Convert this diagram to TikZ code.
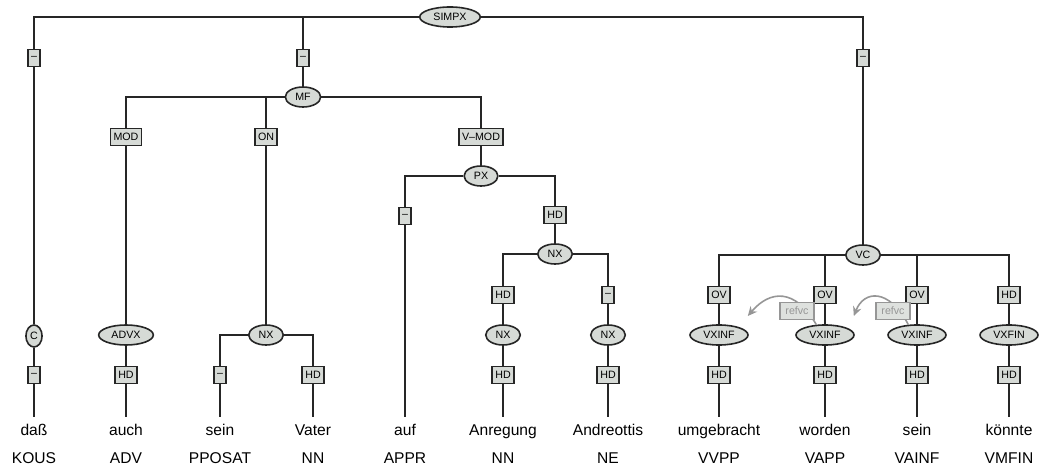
\documentclass[tikz,border=0pt]{standalone}
\usepackage{fontspec}
\setmainfont{Liberation Sans}
\usetikzlibrary{shapes.geometric,arrows.meta,calc}
\definecolor{boxgray}{RGB}{214,218,214}
\definecolor{refgray}{RGB}{150,150,150}

\begin{document}
\begin{tikzpicture}[
        x=0.75pt,
        y=-0.75pt,
        tree edge/.style={line width=1.2pt,draw=black!85},
        cat node/.style={
            ellipse,draw=black!85,line width=1.2pt,fill=boxgray,
            font=\fontsize{8}{9}\selectfont,
            inner xsep=3.6pt,inner ysep=1pt,minimum height=15pt
        },
        func box/.style={
            rectangle,draw=black!85,line width=1.2pt,fill=boxgray,
            font=\fontsize{8}{9}\selectfont,
            inner xsep=2.4pt,inner ysep=0pt,minimum height=12.5pt
        },
        word/.style={
            anchor=base,font=\fontsize{11.7}{14}\selectfont,
            text height=8.5pt,text depth=2.5pt,inner xsep=0pt,inner ysep=4.5pt
        },
        pos tag/.style={anchor=base,font=\fontsize{11.7}{14}\selectfont},
        ref box/.style={
            rectangle,draw=refgray,line width=1pt,fill=boxgray!80,text=refgray,
            font=\fontsize{8}{9}\selectfont,
            inner xsep=4pt,inner ysep=0pt,minimum height=12.5pt
        },
        ref edge/.style={
            line width=1.2pt,draw=refgray,
            -{Stealth[length=7pt,width=6.5pt]}
        }
    ]
        \useasboundingbox (0,0) rectangle (1039,470);

        % Root and its three daughters.
        \node[cat node] (simpx) at (450,17) {SIMPX};
        \node[func box] (fA) at (34,58) {--};
        \node[func box] (fB) at (303,58) {--};
        \node[func box] (fC) at (863,58) {--};
        \node[cat node,inner xsep=1.4pt,minimum height=16.5pt] (c) at (34,336) {C};
        \node[cat node] (mf) at (303,97) {MF};
        \node[cat node] (vc) at (863,255) {VC};

        % Middle field.
        \node[func box] (mod) at (126,137) {MOD};
        \node[func box] (on) at (266,137) {ON};
        \node[func box] (vmod) at (481,137) {V--MOD};
        \node[cat node] (advx) at (126,335) {ADVX};
        \node[cat node] (nxA) at (266,335) {NX};
        \node[cat node] (px) at (481,176) {PX};
        \node[func box] (fD) at (405,216) {--};
        \node[func box] (hdA) at (555,215) {HD};
        \node[cat node] (nxB) at (555,254) {NX};
        \node[func box] (hdB) at (503,295) {HD};
        \node[func box] (fE) at (608,295) {--};
        \node[cat node] (nxC) at (503,335) {NX};
        \node[cat node] (nxD) at (608,335) {NX};

        % Verb complex.
        \node[func box] (ovA) at (719,295) {OV};
        \node[func box] (ovB) at (825,295) {OV};
        \node[func box] (ovC) at (917,295) {OV};
        \node[func box] (hdC) at (1009,295) {HD};
        \node[cat node] (vxA) at (719,335) {VXINF};
        \node[cat node] (vxB) at (825,335) {VXINF};
        \node[cat node] (vxC) at (917,335) {VXINF};
        \node[cat node] (vxfin) at (1009,335) {VXFIN};

        % Lowest function labels.
        \node[func box] (fF) at (34,375) {--};
        \node[func box] (hdD) at (126,375) {HD};
        \node[func box] (fG) at (220,375) {--};
        \node[func box] (hdE) at (313,375) {HD};
        \node[func box] (hdF) at (503,375) {HD};
        \node[func box] (hdG) at (608,375) {HD};
        \node[func box] (hdH) at (719,375) {HD};
        \node[func box] (hdI) at (825,375) {HD};
        \node[func box] (hdJ) at (917,375) {HD};
        \node[func box] (hdK) at (1009,375) {HD};

        % Words and their tags.
        \node[word] (wDass) at (34,435) {daß};
        \node[word] (wAuch) at (126,435) {auch};
        \node[word] (wSeinA) at (220,435) {sein};
        \node[word] (wVater) at (313,435) {Vater};
        \node[word] (wAuf) at (405,435) {auf};
        \node[word] (wAnregung) at (503,435) {Anregung};
        \node[word] (wAndreottis) at (608,435) {Andreottis};
        \node[word] (wUmgebracht) at (719,435) {umgebracht};
        \node[word] (wWorden) at (825,435) {worden};
        \node[word] (wSeinB) at (917,435) {sein};
        \node[word] (wKoennte) at (1009,435) {könnte};
        \node[pos tag] (tDass) at (34,463) {KOUS};
        \node[pos tag] (tAuch) at (126,463) {ADV};
        \node[pos tag] (tSeinA) at (220,463) {PPOSAT};
        \node[pos tag] (tVater) at (313,463) {NN};
        \node[pos tag] (tAuf) at (405,463) {APPR};
        \node[pos tag] (tAnregung) at (503,463) {NN};
        \node[pos tag] (tAndreottis) at (608,463) {NE};
        \node[pos tag] (tUmgebracht) at (719,463) {VVPP};
        \node[pos tag] (tWorden) at (825,463) {VAPP};
        \node[pos tag] (tSeinB) at (917,463) {VAINF};
        \node[pos tag] (tKoennte) at (1009,463) {VMFIN};

        % Branches from each mother to its function labels.
        \draw[tree edge] (simpx) -| (fA);
        \draw[tree edge] (simpx) -| (fB);
        \draw[tree edge] (simpx) -| (fC);
        \draw[tree edge] (mf) -| (mod);
        \draw[tree edge] (mf) -| (on);
        \draw[tree edge] (mf) -| (vmod);
        \draw[tree edge] (nxA) -| (fG);
        \draw[tree edge] (nxA) -| (hdE);
        \draw[tree edge] (px) -| (fD);
        \draw[tree edge] (px) -| (hdA);
        \draw[tree edge] (nxB) -| (hdB);
        \draw[tree edge] (nxB) -| (fE);
        \draw[tree edge] (vc) -| (ovA);
        \draw[tree edge] (vc) -| (ovB);
        \draw[tree edge] (vc) -| (ovC);
        \draw[tree edge] (vc) -| (hdC);

        % Straight links down each column.
        \foreach \a/\b in {fA/c,c/fF,fF/wDass,fB/mf,fC/vc,
                mod/advx,advx/hdD,hdD/wAuch,on/nxA,fG/wSeinA,hdE/wVater,
                vmod/px,fD/wAuf,hdA/nxB,hdB/nxC,nxC/hdF,hdF/wAnregung,
                fE/nxD,nxD/hdG,hdG/wAndreottis,
                ovA/vxA,vxA/hdH,hdH/wUmgebracht,ovB/vxB,vxB/hdI,hdI/wWorden,
                ovC/vxC,vxC/hdJ,hdJ/wSeinB,hdC/vxfin,vxfin/hdK,hdK/wKoennte}
            \draw[tree edge] (\a) -- (\b);

        % Secondary edges between the verbal chunks.
        \draw[ref edge] (vxB.130)
            .. controls (795,288) and (770,290) .. ($(vxA.east)+(-1,-19)$);
        \node[ref box] (refA) at (797,311) {refvc};
        \draw[ref edge] (vxC.130)
            .. controls (889,288) and (864,290) .. ($(vxB.east)+(-1,-19)$);
        \node[ref box] (refB) at (893,311) {refvc};
    \end{tikzpicture}
\end{document}
